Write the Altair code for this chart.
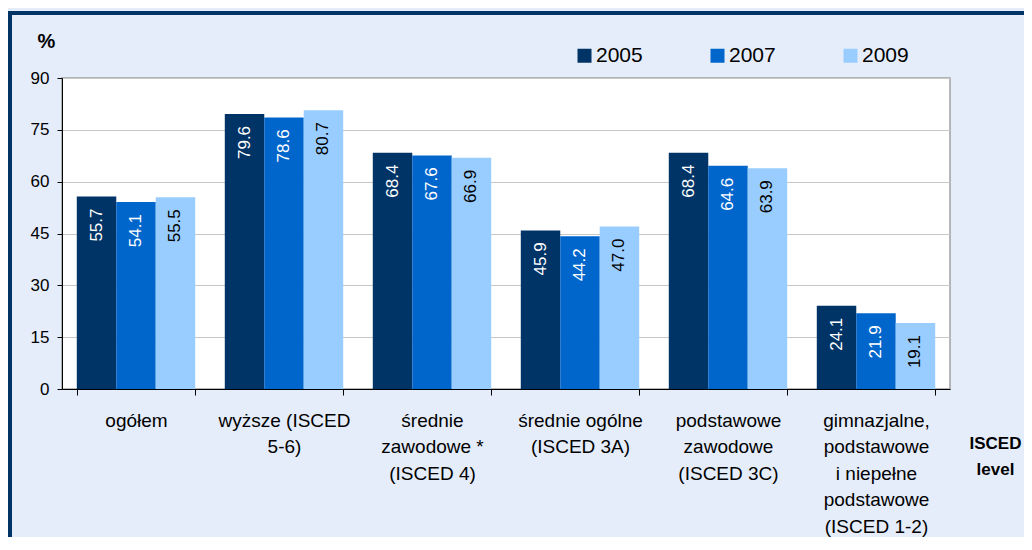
import altair as alt
import pandas as pd

categories = [
    "ogółem",
    "wyższe (ISCED|5-6)",
    "średnie|zawodowe *|(ISCED 4)",
    "średnie ogólne|(ISCED 3A)",
    "podstawowe|zawodowe|(ISCED 3C)",
    "gimnazjalne,|podstawowe|i niepełne|podstawowe|(ISCED 1-2)",
]
years = ["2005", "2007", "2009"]
v2005 = [55.7, 79.6, 68.4, 45.9, 68.4, 24.1]
v2007 = [54.1, 78.6, 67.6, 44.2, 64.6, 21.9]
v2009 = [55.5, 80.7, 66.9, 47.0, 63.9, 19.1]
colors = ["#003366", "#0066CC", "#99CCFF"]
y_ticks = [0, 15, 30, 45, 60, 75, 90]

rows = []
for yr, vals in zip(years, [v2005, v2007, v2009]):
    for c, v in zip(categories, vals):
        rows.append({"category": c, "year": yr, "value": v})
df = pd.DataFrame(rows)

FONT = "Liberation Sans"

x_enc = alt.X(
    "category:N",
    sort=categories,
    scale=alt.Scale(paddingInner=0.2, paddingOuter=0.1),
    axis=alt.Axis(
        title=["ISCED", "level"],
        titleX=933, titleY=46, titleAngle=0, titleAlign="center",
        titleBaseline="top", titleFontSize=17, titleFontWeight="bold",
        titleLineHeight=26, titleColor="black",
        labelExpr="split(datum.label, '|')",
        labelAngle=0, labelFontSize=19, labelLineHeight=26.5,
        labelColor="black", labelPadding=16, labelBaseline="top",
        labelOverlap=False, labelBound=False, labelLimit=0,
        tickBand="extent", tickSize=6, tickColor="black",
        domainColor="black", domainWidth=1, grid=False,
    ),
)
xo_enc = alt.XOffset("year:N", sort=years, scale=alt.Scale(paddingInner=0, paddingOuter=0))
y_enc = alt.Y(
    "value:Q",
    scale=alt.Scale(domain=[0, 90], nice=False),
    axis=alt.Axis(
        values=y_ticks, title="%", titleAngle=0, titleX=-16, titleY=-37,
        titleAlign="center", titleBaseline="middle", titleFontSize=20,
        titleFontWeight="bold", titleColor="black",
        labelFontSize=17, labelPadding=8, labelColor="black",
        tickSize=5, tickColor="black", domainColor="black",
        gridColor="#C8C8C8", gridWidth=1,
    ),
)

bars = alt.Chart(df).mark_bar().encode(
    x=x_enc,
    xOffset=xo_enc,
    y=y_enc,
    color=alt.Color(
        "year:N",
        scale=alt.Scale(domain=years, range=colors),
        legend=alt.Legend(
            title=None, orient="none", direction="horizontal",
            legendX=512, legendY=-33, symbolType="square", symbolSize=196,
            symbolStrokeWidth=0, symbolOpacity=1, labelFontSize=21,
            labelOffset=1, columnPadding=64, labelColor="black", padding=0,
        ),
    ),
)

labels = alt.Chart(df).mark_text(
    angle=270, align="right", baseline="middle", dx=-12, fontSize=17
).encode(
    x=x_enc,
    xOffset=xo_enc,
    y=y_enc,
    text=alt.Text("value:Q", format=".1f"),
    color=alt.condition("datum.year == '2009'", alt.value("black"), alt.value("white")),
)

frame_df = pd.DataFrame({"k": [0]})
border_top = alt.Chart(frame_df).mark_rule(color="#003366", strokeWidth=4).encode(
    x=alt.value(-54), x2=alt.value(970), y=alt.value(-65)
)
border_left = alt.Chart(frame_df).mark_rule(color="#003366", strokeWidth=4).encode(
    x=alt.value(-52), y=alt.value(-67), y2=alt.value(460)
)

chart = alt.layer(bars, labels, border_top, border_left).properties(
    width=888, height=311,
    padding={"left": 54, "top": 70, "right": 74, "bottom": 148},
    autosize=alt.AutoSizeParams(type="none"),
).configure(
    background="#E5EDFB", font=FONT
).configure_view(
    fill="white", stroke="#A0A0A0", strokeWidth=1.5
)

chart.save("out.html", embed_options={"renderer": "svg", "actions": False})
